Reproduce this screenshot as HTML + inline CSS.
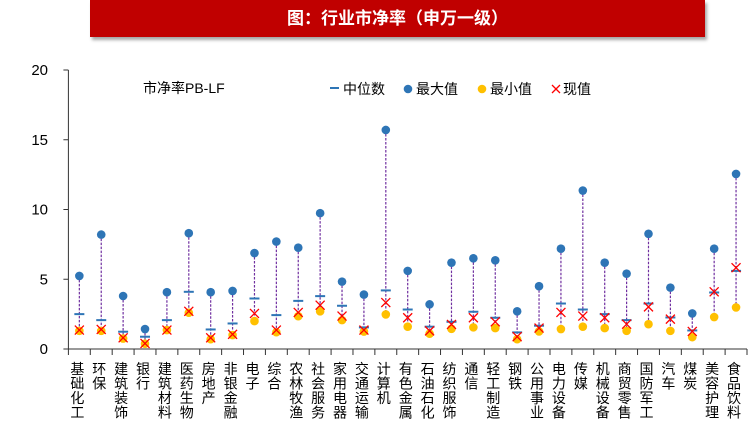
<!DOCTYPE html>
<html><head><meta charset="utf-8"><style>
body{margin:0;background:#fff;}
#c{position:relative;width:748px;height:421px;overflow:hidden;font-family:"Liberation Sans","Noto Sans CJK SC",sans-serif;}
#banner{position:absolute;left:90px;top:0;width:615px;height:37px;background:#C00000;box-shadow:2px 3px 3px rgba(0,0,0,0.35);color:#fff;font-weight:bold;font-size:17px;line-height:37px;text-align:center;}
</style></head><body>
<div id="c">
<div id="banner">图：行业市净率（申万一级）</div>
<svg id="s" width="748" height="421" style="position:absolute;left:0;top:0"></svg>
</div>
<script>
const categories=["基础化工","环保","建筑装饰","银行","建筑材料","医药生物","房地产","非银金融","电子","综合","农林牧渔","社会服务","家用电器","交通运输","计算机","有色金属","石油石化","纺织服饰","通信","轻工制造","钢铁","公用事业","电力设备","传媒","机械设备","商贸零售","国防军工","汽车","煤炭","美容护理","食品饮料"];
const maxVals=[5.24,8.2,3.8,1.43,4.07,8.3,4.07,4.16,6.88,7.7,7.26,9.74,4.83,3.9,15.7,5.6,3.2,6.19,6.5,6.36,2.7,4.5,7.19,11.36,6.19,5.4,8.26,4.4,2.55,7.19,12.55];
const medianVals=[2.5,2.07,1.24,0.88,2.07,4.1,1.4,1.83,3.62,2.43,3.45,3.79,3.1,1.55,4.2,2.83,1.6,1.95,2.67,2.24,1.19,1.67,3.26,2.83,2.5,2.07,3.26,2.26,1.33,4.05,5.6];
const minVals=[1.3,1.3,0.75,0.38,1.36,2.6,0.7,1.0,2.0,1.2,2.35,2.7,2.07,1.25,2.48,1.6,1.1,1.45,1.55,1.5,0.7,1.26,1.43,1.6,1.5,1.3,1.78,1.3,0.85,2.29,2.98];
const currentVals=[1.36,1.4,0.8,0.4,1.36,2.7,0.8,1.05,2.55,1.36,2.62,3.14,2.36,1.36,3.33,2.24,1.3,1.76,2.24,1.95,0.88,1.5,2.62,2.36,2.24,1.78,3.02,2.14,1.26,4.1,5.83];
const yTicks=[0,5,10,15,20];

const svg=document.getElementById('s');
const NS='http://www.w3.org/2000/svg';
const X0=68.4,X1=747,Y0=349,Y1=70,YMAX=20;
const step=(X1-X0)/categories.length;
function xs(i){return X0+step*(i+0.5);}
function ys(v){return Y0-(Y0-Y1)*v/YMAX;}
function mk(tag,attrs,parent){const e=document.createElementNS(NS,tag);for(const k in attrs)e.setAttribute(k,attrs[k]);(parent||svg).appendChild(e);return e;}

let ax=mk('line',{x1:X0,y1:Y1,x2:X0,y2:Y0,stroke:'#333','stroke-width':1});


let bx=mk('line',{x1:X0,y1:Y0,x2:X1,y2:Y0,stroke:'#333','stroke-width':1});


yTicks.forEach(t=>{
  mk('line',{x1:X0-5,y1:ys(t),x2:X0,y2:ys(t),stroke:'#333'});
  const tx=mk('text',{x:48,y:ys(t)+5,'text-anchor':'end','font-size':15,fill:'#000'});
  tx.textContent=t;
  
  
});
for(let i=0;i<=categories.length;i++){
  const x=X0+step*i;
  mk('line',{x1:x,y1:Y0,x2:x,y2:Y0+6,stroke:'#333'});
}
categories.forEach((c,i)=>{
  const g=mk('text',{x:xs(i)-2,y:0,'text-anchor':'middle','font-size':14,fill:'#000'});
  
  
  [...c].forEach((ch,k)=>{const t=mk('tspan',{x:xs(i)-2,y:374+k*14.5},g);t.textContent=ch;});
});

categories.forEach((c,i)=>{
  const x=xs(i);
  const l=mk('line',{x1:x,y1:ys(maxVals[i]),x2:x,y2:ys(minVals[i]),stroke:'#7030A0','stroke-width':1.2,'stroke-dasharray':'2.5,1.5'});
  
  
  const mx=mk('circle',{cx:x,cy:ys(maxVals[i]),r:4.3,fill:'#2E75B6'});
  
  
  const mn=mk('circle',{cx:x,cy:ys(minVals[i]),r:4.3,fill:'#FFC000'});
  
  
  const md=mk('line',{x1:x-5,y1:ys(medianVals[i]),x2:x+5,y2:ys(medianVals[i]),stroke:'#2E75B6','stroke-width':2});
  
  
  const cy=ys(currentVals[i]);
  const cur=mk('path',{d:`M${x-4.5} ${cy-4.5}L${x+4.5} ${cy+4.5}M${x+4.5} ${cy-4.5}L${x-4.5} ${cy+4.5}`,stroke:'#FF0000','stroke-width':1.3,fill:'none'});
  
  
});

const lt=mk('text',{x:143,y:93,'font-size':14,fill:'#000'});lt.textContent='市净率PB-LF';


const lg=mk('g',{});


mk('line',{x1:330,y1:88,x2:339,y2:88,stroke:'#2E75B6','stroke-width':2},lg);
let t1=mk('text',{x:343,y:94,'font-size':14},lg);t1.textContent='中位数';
mk('circle',{cx:408,cy:89,r:4.3,fill:'#2E75B6'},lg);
let t2=mk('text',{x:416,y:94,'font-size':14},lg);t2.textContent='最大值';
mk('circle',{cx:482,cy:89,r:4.3,fill:'#FFC000'},lg);
let t3=mk('text',{x:490,y:94,'font-size':14},lg);t3.textContent='最小值';
mk('path',{d:'M552 85L560 93M560 85L552 93',stroke:'#FF0000','stroke-width':1.3},lg);
let t4=mk('text',{x:563,y:94,'font-size':14},lg);t4.textContent='现值';
</script>
</body></html>
